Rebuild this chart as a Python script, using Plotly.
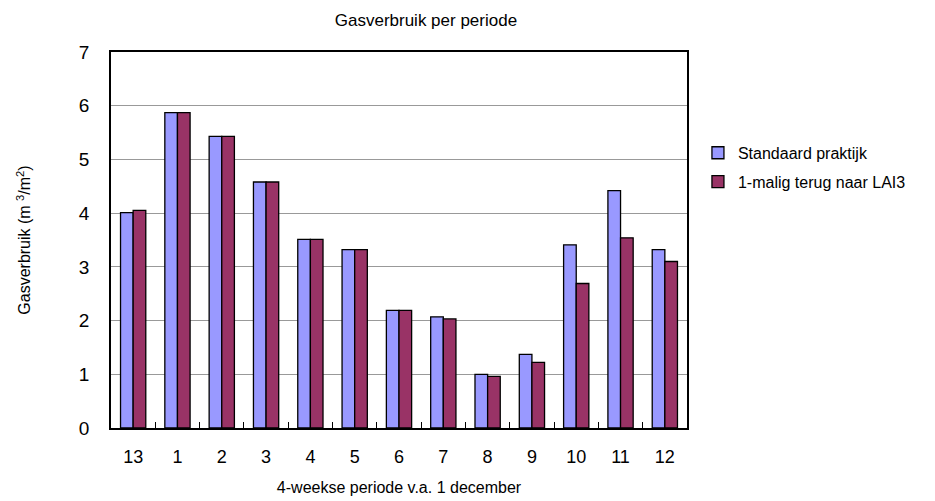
import plotly.graph_objects as go

categories = ["13", "1", "2", "3", "4", "5", "6", "7", "8", "9", "10", "11", "12"]
standaard = [4.01, 5.87, 5.43, 4.58, 3.51, 3.32, 2.19, 2.07, 1.00, 1.37, 3.41, 4.42, 3.32]
lai3 = [4.05, 5.87, 5.43, 4.58, 3.51, 3.32, 2.19, 2.03, 0.96, 1.22, 2.69, 3.54, 3.10]
y_ticks = [0, 1, 2, 3, 4, 5, 6, 7]

font_family = "Liberation Sans, Arial, sans-serif"

fig = go.Figure()
fig.add_trace(go.Bar(x=categories, y=standaard, name="Standaard praktijk", legendgroup="a",
                     marker=dict(color="#9999FF", line=dict(color="black", width=1.3))))
fig.add_trace(go.Bar(x=categories, y=lai3, name="1-malig terug naar LAI3", legendgroup="b",
                     marker=dict(color="#993366", line=dict(color="black", width=1.3))))

fig.update_layout(
    width=935, height=501,
    margin=dict(l=103, r=256, t=44, b=81),
    paper_bgcolor="white", plot_bgcolor="white",
    font=dict(family=font_family, color="black", size=16),
    barmode="group", bargap=0.43, bargroupgap=0,
    title=dict(text="Gasverbruik per periode", x=0.447, xanchor="center",
               y=0.976, yanchor="middle", font=dict(size=17)),
    legend=dict(x=1.019, y=0.777, xanchor="left", yanchor="top",
                font=dict(size=16), bgcolor="rgba(0,0,0,0)",
                traceorder="grouped", tracegroupgap=5),
    showlegend=True,
)
fig.update_xaxes(
    type="category", showline=True, linecolor="black", linewidth=1.5, mirror=True,
    ticks="inside", tickson="boundaries", ticklen=6, tickcolor="black",
    tickfont=dict(size=18), ticklabelstandoff=12,
    title=dict(text="4-weekse periode v.a. 1 december", font=dict(size=16), standoff=15),
)
fig.update_yaxes(
    range=[0, 7], tickvals=y_ticks, showline=True, linecolor="black", linewidth=1.5,
    mirror=True, ticks="",
    showgrid=True, gridcolor="#999999", gridwidth=1.3, zeroline=False,
    tickfont=dict(size=19), ticklabelstandoff=16,
    title=dict(text="Gasverbruik (m <sup>3</sup>/m<sup>2</sup>)", font=dict(size=16), standoff=44),
)

fig.write_html("out.html")
